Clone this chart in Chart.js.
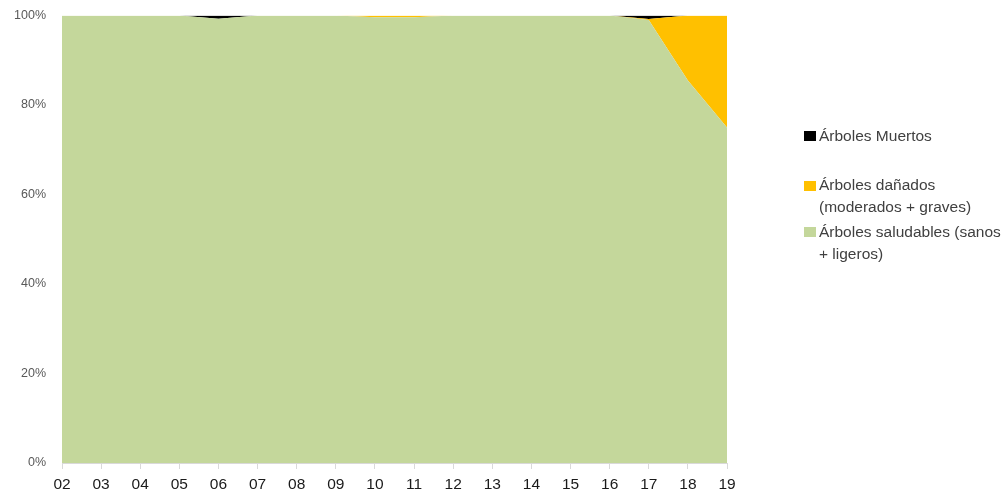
<!DOCTYPE html>
<html><head><meta charset="utf-8">
<script src="https://cdn.jsdelivr.net/npm/chart.js@4/dist/chart.umd.min.js"></script>
<style>
html,body{margin:0;padding:0;background:#fff;}
#wrap{position:relative;width:1005px;height:498px;}
#legend{position:absolute;left:0;top:0;font-family:"Liberation Sans",Arial,sans-serif;font-size:15.5px;color:#404040;}
.item{position:absolute;left:804px;line-height:22px;white-space:nowrap;}
.box{position:absolute;left:0;width:12px;height:10px;}
.txt{position:absolute;left:15px;}
</style></head><body>
<div id="wrap"><canvas id="c" width="1005" height="498"></canvas><div id="legend"></div></div>
<script>
const years = ["02","03","04","05","06","07","08","09","10","11","12","13","14","15","16","17","18","19"];
const healthy = [100,100,100,100,99.3,100,100,100,99.6,99.6,100,100,100,100,100,99.0,85.5,75.0];
const damaged = [0,0,0,0,0,0,0,0,0.4,0.4,0,0,0,0,0,0.2,14.5,25.0];
const dead    = [0,0,0,0,0.7,0,0,0,0,0,0,0,0,0,0,0.8,0,0];
const seriesNames = [["Árboles Muertos"],["Árboles dañados","(moderados + graves)"],["Árboles saludables (sanos","+ ligeros)"]];
const yTicks = [0,20,40,60,80,100];

const colors = {healthy:"#c4d79b", damaged:"#ffc000", dead:"#000000"};

new Chart(document.getElementById("c"), {
  type: "line",
  data: {
    labels: years,
    datasets: [
      {label: seriesNames[2].join(" "), data: healthy, backgroundColor: colors.healthy, borderColor: colors.healthy, borderWidth: 0, fill: "origin", pointRadius: 0, tension: 0},
      {label: seriesNames[1].join(" "), data: damaged, backgroundColor: colors.damaged, borderColor: colors.damaged, borderWidth: 0, fill: "-1", pointRadius: 0, tension: 0},
      {label: seriesNames[0].join(" "), data: dead, backgroundColor: colors.dead, borderColor: colors.dead, borderWidth: 0, fill: "-1", pointRadius: 0, tension: 0}
    ]
  },
  options: {
    responsive: false,
    animation: false,
    layout: {padding: {left: 0, top: 15, right: 278, bottom: 0}},
    plugins: {legend: {display: false}, tooltip: {enabled: false}},
    scales: {
      x: {
        offset: false,
        grid: {drawOnChartArea: false, tickLength: 6, color: "#d9d9d9"},
        border: {color: "#d9d9d9"},
        ticks: {color: "#1a1a1a", font: {family: "Liberation Sans", size: 15.5}, padding: 6, maxRotation: 0, autoSkip: false},
        afterFit: s => { s.height = 35; }
      },
      y: {
        stacked: true, min: 0, max: 100,
        afterBuildTicks: s => { s.ticks = yTicks.map(v => ({value: v})); },
        grid: {display: false},
        border: {display: false},
        ticks: {color: "#595959", font: {family: "Liberation Sans", size: 12.5}, padding: 8, callback: v => v + "%"},
        afterFit: s => { s.width = 62; }
      }
    }
  }
});

const legendItems = [
  {name: seriesNames[0], color: colors.dead, top: 125, boxTop: 6},
  {name: seriesNames[1], color: colors.damaged, top: 174, boxTop: 7},
  {name: seriesNames[2], color: colors.healthy, top: 221, boxTop: 6}
];
const lg = document.getElementById("legend");
legendItems.forEach(it => {
  const d = document.createElement("div");
  d.className = "item"; d.style.top = it.top + "px";
  const b = document.createElement("div");
  b.className = "box"; b.style.background = it.color; b.style.top = it.boxTop + "px";
  const t = document.createElement("div");
  t.className = "txt"; t.innerHTML = it.name.join("<br>");
  d.appendChild(b); d.appendChild(t); lg.appendChild(d);
});
</script>
</body></html>
